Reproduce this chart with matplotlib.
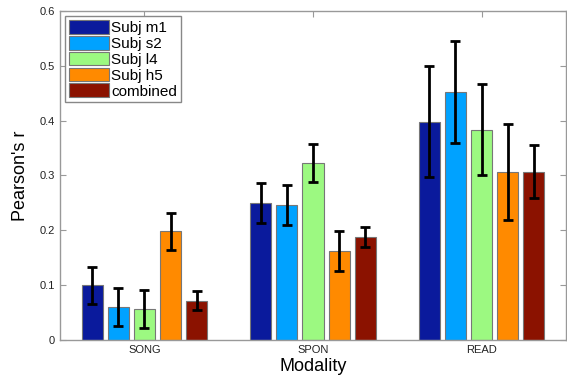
import numpy as np
import matplotlib.pyplot as plt

plt.rcParams['font.family'] = ['Liberation Sans', 'DejaVu Sans']

modalities = ['SONG', 'SPON', 'READ']
subjects = ['Subj m1', 'Subj s2', 'Subj l4', 'Subj h5', 'combined']
colors = ['#0A1A9C', '#00A2FF', '#9CF981', '#FF8A00', '#8B1200']

# mean r per subject, one list per modality order SONG, SPON, READ
m1 = [0.100, 0.250, 0.398]
s2 = [0.060, 0.246, 0.452]
l4 = [0.057, 0.323, 0.383]
h5 = [0.198, 0.162, 0.306]
comb = [0.072, 0.188, 0.307]

# error bar half-widths
m1_err = [0.034, 0.036, 0.101]
s2_err = [0.034, 0.036, 0.093]
l4_err = [0.035, 0.035, 0.083]
h5_err = [0.033, 0.037, 0.087]
comb_err = [0.017, 0.019, 0.048]

vals = [m1, s2, l4, h5, comb]
errs = [m1_err, s2_err, l4_err, h5_err, comb_err]

fig = plt.figure(figsize=(5.67, 3.77), dpi=100)
ax = fig.add_axes([0.106, 0.098, 0.892, 0.873])

x = np.arange(1, 4)
w = 0.125
step = 0.155
for i in range(5):
    pos = x + (i - 2) * step
    ax.bar(pos, vals[i], w, color=colors[i], edgecolor='#777777', linewidth=0.8,
           label=subjects[i], zorder=2)
    ax.errorbar(pos, vals[i], yerr=errs[i], fmt='none', ecolor='black',
                elinewidth=2, capsize=3.5, capthick=2, zorder=3)

ax.set_xlim(0.5, 3.5)
ax.set_ylim(0, 0.6)
ax.set_xticks(x)
ax.set_xticklabels(modalities)
ax.set_yticks([0, 0.1, 0.2, 0.3, 0.4, 0.5, 0.6])
ax.set_yticklabels(['0', '0.1', '0.2', '0.3', '0.4', '0.5', '0.6'])
ax.tick_params(direction='in', length=4, color='#999999', labelsize=8,
               top=True, right=True, labelcolor='#222222')
for s in ax.spines.values():
    s.set_color('#999999')
    s.set_linewidth(1)

ax.set_xlabel('Modality', fontsize=13, labelpad=2)
ax.set_ylabel("Pearson's r", fontsize=13, labelpad=8)

leg = ax.legend(loc='upper left', fontsize=11, fancybox=False, framealpha=1,
                edgecolor='#888888', handlelength=2.6, handleheight=1.0,
                handletextpad=0.15, labelspacing=0.05, borderpad=0.25,
                borderaxespad=0.35)
leg.get_frame().set_linewidth(1)

fig.savefig('out.png', dpi=100)
